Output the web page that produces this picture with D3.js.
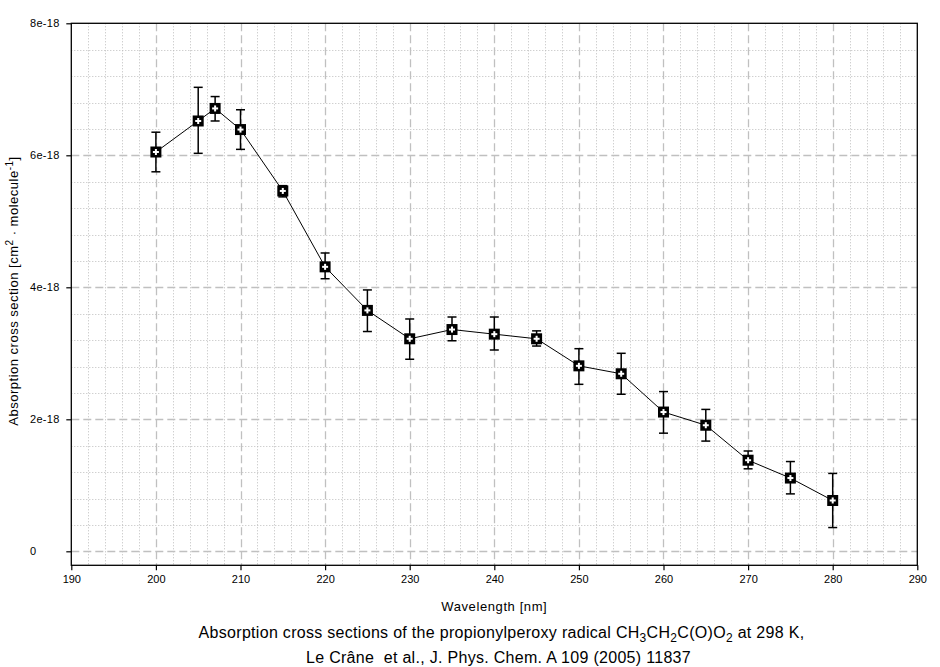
<!DOCTYPE html>
<html>
<head>
<meta charset="utf-8">
<script src="https://cdn.jsdelivr.net/npm/d3@7"></script>
<style>
  html, body { margin: 0; padding: 0; background: #fff; }
  svg { display: block; font-family: "Liberation Sans", Arial, sans-serif; }
</style>
</head>
<body>
<svg id="chart" width="940" height="667"></svg>
<script>
// Data (cross sections in cm^2 molecule^-1)
const wavelengths = [200, 205, 207, 210, 215, 220, 225, 230, 235, 240, 245, 250, 255, 260, 265, 270, 275, 280];
const sigma = [6.05e-18, 6.52e-18, 6.71e-18, 6.39e-18, 5.46e-18, 4.31e-18, 3.65e-18, 3.22e-18, 3.36e-18, 3.29e-18, 3.22e-18, 2.81e-18, 2.69e-18, 2.11e-18, 1.91e-18, 1.38e-18, 1.11e-18, 0.77e-18];
const sigmaUpper = [6.35e-18, 7.03e-18, 6.89e-18, 6.69e-18, 5.54e-18, 4.52e-18, 3.96e-18, 3.52e-18, 3.55e-18, 3.55e-18, 3.34e-18, 3.07e-18, 3.00e-18, 2.42e-18, 2.15e-18, 1.52e-18, 1.36e-18, 1.18e-18];
const sigmaLower = [5.75e-18, 6.03e-18, 6.52e-18, 6.09e-18, 5.37e-18, 4.13e-18, 3.33e-18, 2.91e-18, 3.19e-18, 3.05e-18, 3.11e-18, 2.53e-18, 2.38e-18, 1.79e-18, 1.67e-18, 1.25e-18, 0.87e-18, 0.36e-18];
const xTickValues = [190, 200, 210, 220, 230, 240, 250, 260, 270, 280, 290];
const yTickValues = [0, 2e-18, 4e-18, 6e-18, 8e-18];
const yTickLabels = ["0", "2e-18", "4e-18", "6e-18", "8e-18"];

const svg = d3.select("#chart");
const L = 71.3, R = 917.3, T = 23.3, B = 565.3;

const x = d3.scaleLinear().domain([190, 290]).range([L, R]);
const y = d3.scaleLinear().domain([-0.212e-18, 8e-18]).range([B, T]);

svg.append("rect").attr("width", 940).attr("height", 667).attr("fill", "#fff");

const grid = svg.append("g");
// minor grid (dotted)
const xMinor = d3.range(192, 290, 2).filter(v => v % 10 !== 0);
grid.selectAll(".xm").data(xMinor).join("line")
  .attr("x1", d => Math.round(x(d)) + 0.5).attr("x2", d => Math.round(x(d)) + 0.5)
  .attr("y1", T).attr("y2", B)
  .attr("stroke", "#bdbdbd").attr("stroke-width", 1).attr("stroke-dasharray", "1,2");
const yMinor = d3.range(0, 8, 0.4).map(v => v * 1e-18).filter((v, i) => i % 5 !== 0);
grid.selectAll(".ym").data(yMinor).join("line")
  .attr("x1", L).attr("x2", R)
  .attr("y1", d => Math.round(y(d)) + 0.5).attr("y2", d => Math.round(y(d)) + 0.5)
  .attr("stroke", "#bdbdbd").attr("stroke-width", 1).attr("stroke-dasharray", "1,2");
// major grid (dashed)
grid.selectAll(".xM").data(xTickValues.slice(1, -1)).join("line")
  .attr("x1", d => Math.round(x(d)) + 0.5).attr("x2", d => Math.round(x(d)) + 0.5)
  .attr("y1", T).attr("y2", B)
  .attr("stroke", "#c0c0c0").attr("stroke-width", 1.3).attr("stroke-dasharray", "8,4");
grid.selectAll(".yM").data(yTickValues.slice(0, -1)).join("line")
  .attr("x1", L).attr("x2", R)
  .attr("y1", d => Math.round(y(d)) + 0.5).attr("y2", d => Math.round(y(d)) + 0.5)
  .attr("stroke", "#c0c0c0").attr("stroke-width", 1.3).attr("stroke-dasharray", "8,4");

// frame
svg.append("rect").attr("x", L).attr("y", T).attr("width", R - L).attr("height", B - T)
  .attr("fill", "none").attr("stroke", "#000").attr("stroke-width", 1.3);

// axes
const xAxis = d3.axisBottom(x).tickValues(xTickValues).tickSize(5).tickPadding(5).tickFormat(d3.format("d"));
const gx = svg.append("g").attr("transform", `translate(0,${B})`).call(xAxis);
gx.select(".domain").remove();
gx.selectAll("line").attr("stroke", "#000").attr("stroke-width", 1.2);
gx.selectAll("text").attr("font-size", 11).attr("fill", "#000").attr("font-family", "Liberation Sans, Arial, sans-serif");

const yAxis = d3.axisLeft(y).tickValues(yTickValues).tickSize(5).tickFormat((d, i) => yTickLabels[i]);
const gy = svg.append("g").attr("transform", `translate(${L},0)`).call(yAxis);
gy.select(".domain").remove();
gy.selectAll("line").attr("stroke", "#000").attr("stroke-width", 1.2);
gy.selectAll("text").attr("font-size", 11).attr("fill", "#000")
  .attr("font-family", "Liberation Sans, Arial, sans-serif")
  .attr("text-anchor", "start").attr("x", 30 - L).attr("letter-spacing", 0.3);

// axis titles
svg.append("text").attr("x", (L + R) / 2).attr("y", 611).attr("text-anchor", "middle")
  .attr("font-size", 13).attr("letter-spacing", 0.6).text("Wavelength [nm]");
const yt = svg.append("text").attr("transform", "translate(18,291) rotate(-90)")
  .attr("text-anchor", "middle").attr("font-size", 13).attr("letter-spacing", 0.5);
yt.append("tspan").text("Absorption cross section [cm");
yt.append("tspan").attr("dy", -5).attr("font-size", 10).text("2");
yt.append("tspan").attr("dy", 5).text("\u00a0\u00b7 molecule");
yt.append("tspan").attr("dy", -5).attr("font-size", 10).text("-1");
yt.append("tspan").attr("dy", 5).text("]");

// caption
const c1 = svg.append("text").attr("x", 501.5).attr("y", 638).attr("text-anchor", "middle")
  .attr("font-size", 16).attr("letter-spacing", 0.3);
c1.append("tspan").text("Absorption cross sections of the propionylperoxy radical CH");
c1.append("tspan").attr("dy", 4).attr("font-size", 12).text("3");
c1.append("tspan").attr("dy", -4).text("CH");
c1.append("tspan").attr("dy", 4).attr("font-size", 12).text("2");
c1.append("tspan").attr("dy", -4).text("C(O)O");
c1.append("tspan").attr("dy", 4).attr("font-size", 12).text("2");
c1.append("tspan").attr("dy", -4).text(" at 298 K,");
svg.append("text").attr("x", 498.5).attr("y", 663).attr("text-anchor", "middle")
  .attr("font-size", 16).attr("letter-spacing", 0.3)
  .text("Le Cr\u00e2ne \u00a0et al., J. Phys. Chem. A 109 (2005) 11837");

// data
const data = wavelengths.map((w, i) => ({ w, s: sigma[i], hi: sigmaUpper[i], lo: sigmaLower[i] }));
const line = d3.line().x(d => x(d.w)).y(d => y(d.s));
svg.append("path").datum(data).attr("d", line).attr("fill", "none").attr("stroke", "#000").attr("stroke-width", 1);

const eb = svg.append("g").attr("stroke", "#000").attr("stroke-width", 1.5);
eb.selectAll(".v").data(data).join("line")
  .attr("x1", d => x(d.w)).attr("x2", d => x(d.w)).attr("y1", d => y(d.hi)).attr("y2", d => y(d.lo));
eb.selectAll(".ct").data(data).join("line")
  .attr("x1", d => x(d.w) - 4.5).attr("x2", d => x(d.w) + 4.5).attr("y1", d => y(d.hi)).attr("y2", d => y(d.hi));
eb.selectAll(".cb").data(data).join("line")
  .attr("x1", d => x(d.w) - 4.5).attr("x2", d => x(d.w) + 4.5).attr("y1", d => y(d.lo)).attr("y2", d => y(d.lo));

const mk = svg.append("g");
const m = mk.selectAll("g").data(data).join("g").attr("transform", d => `translate(${x(d.w)},${y(d.s)})`);
m.append("rect").attr("x", -5.5).attr("y", -5.5).attr("width", 11).attr("height", 11).attr("fill", "#000");
m.append("rect").attr("x", -3).attr("y", -1).attr("width", 6).attr("height", 2).attr("fill", "#fff");
m.append("rect").attr("x", -1).attr("y", -3).attr("width", 2).attr("height", 6).attr("fill", "#fff");
</script>
</body>
</html>
